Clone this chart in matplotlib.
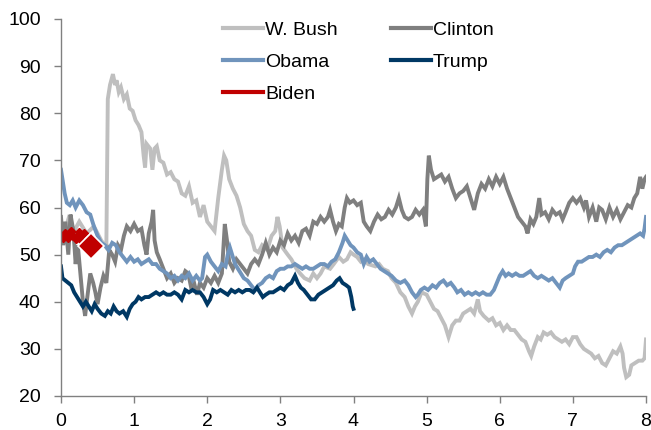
import matplotlib
matplotlib.use("Agg")
import matplotlib.pyplot as plt

plt.rcParams['font.family'] = ['Liberation Sans', 'DejaVu Sans']

# ---- data (years in office, approval %) ----
bush_x = [0.00, 0.05, 0.10, 0.18, 0.25, 0.35, 0.45, 0.55, 0.62, 0.64, 0.67, 0.71, 0.74, 0.76, 0.79, 0.82, 0.86, 0.90, 0.94, 0.98,
          1.02, 1.06, 1.10, 1.13, 1.15, 1.17, 1.22, 1.25, 1.28, 1.31, 1.35, 1.40, 1.45, 1.50, 1.55, 1.60, 1.65, 1.70, 1.75, 1.80,
          1.85, 1.90, 1.95, 2.00, 2.05, 2.10, 2.15, 2.20, 2.23, 2.26, 2.30, 2.35, 2.40, 2.45, 2.50, 2.55, 2.60, 2.65, 2.70, 2.75,
          2.82, 2.88, 2.93, 2.96, 2.99, 3.03, 3.10, 3.15, 3.22, 3.27, 3.33, 3.40, 3.45, 3.50, 3.55, 3.60, 3.68, 3.73, 3.80, 3.86,
          3.91, 3.96, 4.00, 4.05, 4.10, 4.15, 4.20, 4.30, 4.35, 4.40, 4.47, 4.52, 4.58, 4.64, 4.70, 4.75, 4.80, 4.84, 4.88, 4.93,
          5.00, 5.05, 5.10, 5.15, 5.20, 5.25, 5.30, 5.35, 5.40, 5.45, 5.50, 5.55, 5.60, 5.65, 5.70, 5.73, 5.78, 5.85, 5.90, 5.95,
          6.00, 6.05, 6.10, 6.15, 6.20, 6.25, 6.30, 6.35, 6.40, 6.43, 6.47, 6.52, 6.56, 6.60, 6.65, 6.70, 6.75, 6.80, 6.85, 6.90,
          6.95, 7.00, 7.05, 7.10, 7.15, 7.20, 7.25, 7.30, 7.35, 7.40, 7.45, 7.50, 7.55, 7.60, 7.65, 7.68, 7.70, 7.73, 7.77, 7.80,
          7.85, 7.90, 7.95, 7.98, 8.00]
bush_y = [57, 55, 57.5, 55, 57, 54.5, 56, 53, 51.5, 83, 86, 88.3, 86, 87, 84.5, 85.5, 83, 84, 81, 80.5,
          78.5, 77.5, 76, 71, 68.5, 73.5, 72.5, 68, 72.5, 73, 70, 69.5, 67, 67.5, 66, 65.5, 63, 62.5, 64.5, 61,
          61.5, 58, 60.5, 57, 56, 55, 62, 68, 71, 70, 66, 64, 62.5, 60, 56.5, 55, 54, 51, 50.5, 52,
          51, 54, 55, 58, 56, 51.5, 50, 49, 47, 46, 45, 44.5, 46, 45, 46, 47.5, 47, 48, 49.5, 48.5,
          49, 50.5, 50, 49.5, 48.5, 49, 48, 47.5, 48, 47, 46.5, 45, 44, 42, 41, 39, 37.5, 39, 40, 42,
          41.5, 40, 38.5, 38, 36.5, 35, 32.5, 35, 36, 36, 37.5, 38, 38.5, 37.5, 40.5, 38, 37, 36, 36.5, 35,
          35.5, 34, 35, 34, 34, 33, 32, 31.5, 29.5, 28.5, 30.5, 32.5, 32, 33.5, 33, 33.5, 32.5, 32, 31.5, 32,
          31, 32.5, 32.5, 31, 30, 29.5, 29, 28, 28.5, 27, 26.5, 28, 29.5, 29, 30.5, 29, 26, 24, 24.5, 26.5,
          27, 27.5, 27.5, 28, 32]

clinton_x = [0.00, 0.03, 0.06, 0.10, 0.13, 0.17, 0.20, 0.23, 0.27, 0.30, 0.33, 0.36, 0.40, 0.44, 0.47, 0.50, 0.54, 0.58, 0.62, 0.66,
             0.70, 0.74, 0.78, 0.82, 0.86, 0.90, 0.95, 1.00, 1.05, 1.10, 1.14, 1.17, 1.20, 1.24, 1.26, 1.28, 1.31, 1.35, 1.40, 1.45,
             1.50, 1.55, 1.60, 1.65, 1.70, 1.74, 1.78, 1.82, 1.86, 1.90, 1.95, 2.00, 2.05, 2.10, 2.15, 2.20, 2.24, 2.27, 2.30, 2.35,
             2.40, 2.45, 2.50, 2.55, 2.60, 2.65, 2.70, 2.75, 2.80, 2.85, 2.90, 2.95, 3.00, 3.05, 3.10, 3.15, 3.20, 3.25, 3.30, 3.35,
             3.40, 3.45, 3.50, 3.55, 3.60, 3.65, 3.68, 3.72, 3.76, 3.80, 3.84, 3.88, 3.91, 3.95, 4.00, 4.05, 4.10, 4.14, 4.18, 4.23,
             4.28, 4.33, 4.38, 4.43, 4.48, 4.53, 4.58, 4.62, 4.66, 4.70, 4.75, 4.80, 4.85, 4.90, 4.95, 4.99, 5.01, 5.03, 5.06, 5.10,
             5.15, 5.20, 5.25, 5.30, 5.35, 5.40, 5.45, 5.50, 5.55, 5.60, 5.65, 5.70, 5.75, 5.80, 5.85, 5.90, 5.95, 6.00, 6.05, 6.10,
             6.15, 6.20, 6.25, 6.30, 6.35, 6.38, 6.42, 6.46, 6.50, 6.54, 6.57, 6.62, 6.67, 6.72, 6.77, 6.82, 6.86, 6.90, 6.95, 7.00,
             7.05, 7.10, 7.15, 7.18, 7.22, 7.27, 7.32, 7.36, 7.40, 7.45, 7.50, 7.55, 7.60, 7.65, 7.70, 7.75, 7.80, 7.84, 7.88, 7.92,
             7.95, 7.98, 8.00]
clinton_y = [58, 52, 57, 50, 58.5, 55, 48, 52, 45, 40, 37, 41, 46, 44, 42, 39.5, 43, 45.5, 44, 51,
             50, 48.5, 52, 51, 54, 56, 55, 56.5, 55, 55.5, 52, 50, 54.5, 57, 59.5, 53, 50.5, 49, 47, 45,
             46, 44, 45, 44.5, 46.5, 46, 43, 44, 41.5, 44, 43, 45, 44, 45.5, 44, 46, 56.5, 53, 48.5, 47,
             49, 48, 47, 46, 48, 49, 48, 50, 52.5, 50, 51.5, 50.5, 53, 52, 54.5, 53, 54, 52.5, 55, 55.5,
             54, 57, 56.5, 58, 57, 58, 59.5, 57, 55, 56.5, 56, 60, 62, 61, 61.5, 60.5, 61, 57, 56, 55,
             57, 58.5, 57.5, 58, 59.5, 58.5, 60, 62, 59.5, 58, 57.5, 58, 59.5, 58.5, 59.5, 56, 66, 71, 68, 66,
             66.5, 67, 65.5, 66.5, 64, 62, 63, 63.5, 64.5, 62, 59.5, 63, 65, 64, 66, 64.5, 66.5, 65, 66.5, 64,
             62, 60, 58, 57, 56, 54.5, 57.5, 56.5, 58, 62, 58.5, 59, 57.5, 59.5, 58.5, 59, 57.5, 59, 61, 62,
             61, 62, 60, 61.5, 58, 60, 57, 60, 59.5, 57.5, 60, 58, 59.5, 57.5, 59, 60.5, 60, 62, 63, 66.5,
             64, 66, 66.5]

obama_x = [0.00, 0.02, 0.05, 0.08, 0.12, 0.16, 0.20, 0.25, 0.30, 0.35, 0.40, 0.45, 0.50, 0.55, 0.60, 0.65, 0.70, 0.75, 0.80, 0.85,
           0.90, 0.95, 1.00, 1.05, 1.10, 1.15, 1.20, 1.25, 1.30, 1.35, 1.40, 1.45, 1.50, 1.55, 1.60, 1.65, 1.70, 1.75, 1.80, 1.85,
           1.90, 1.93, 1.97, 2.00, 2.05, 2.10, 2.15, 2.20, 2.25, 2.28, 2.31, 2.34, 2.38, 2.42, 2.46, 2.50, 2.55, 2.60, 2.65, 2.70,
           2.75, 2.80, 2.85, 2.90, 2.95, 3.00, 3.05, 3.10, 3.15, 3.20, 3.25, 3.30, 3.35, 3.40, 3.45, 3.50, 3.55, 3.60, 3.65, 3.70,
           3.75, 3.80, 3.85, 3.88, 3.92, 3.96, 4.00, 4.05, 4.10, 4.14, 4.18, 4.22, 4.27, 4.32, 4.37, 4.42, 4.47, 4.52, 4.58, 4.64,
           4.70, 4.75, 4.80, 4.85, 4.88, 4.92, 4.97, 5.02, 5.08, 5.13, 5.18, 5.23, 5.28, 5.33, 5.38, 5.42, 5.47, 5.52, 5.57, 5.62,
           5.67, 5.72, 5.77, 5.82, 5.87, 5.92, 5.96, 6.00, 6.04, 6.08, 6.12, 6.17, 6.22, 6.27, 6.32, 6.37, 6.42, 6.47, 6.52, 6.57,
           6.62, 6.67, 6.72, 6.77, 6.82, 6.86, 6.90, 6.95, 7.00, 7.03, 7.07, 7.12, 7.17, 7.22, 7.27, 7.32, 7.37, 7.42, 7.47, 7.52,
           7.57, 7.62, 7.67, 7.72, 7.77, 7.82, 7.87, 7.92, 7.96, 7.98, 8.00]
obama_y = [68, 66, 63, 61, 60.5, 61.5, 60, 61.5, 60.5, 59, 58.5, 56, 54, 52.5, 52, 51, 52.5, 52, 50.5, 49.5,
           48.5, 49.5, 48.5, 49, 48, 48.5, 49, 48, 48, 47, 46.5, 46, 45, 45.5, 44.5, 45.5, 45, 46, 44.5, 45.5,
           44.5, 45, 49.5, 50, 48.5, 47.5, 46.5, 48, 47.5, 50, 51.5, 50, 48, 47, 46, 45, 44.5, 43.5, 42.5, 43.5,
           44, 45, 45.5, 45, 46.5, 47, 47, 47.5, 47.5, 48, 47.5, 47, 47.5, 47, 47, 47.5, 48, 48, 47.5, 48.5,
           49, 50.5, 52.5, 54, 53, 52, 51.5, 50.5, 50, 48, 49.5, 48.5, 49, 48, 47, 46.5, 46, 45.5, 44.5, 44,
           44.5, 43.5, 42, 41, 41.5, 42.5, 43, 42.5, 43.5, 43, 44, 44.5, 43.5, 44, 43, 42, 42.5, 41.5, 42, 41.5,
           42, 41.5, 42, 41.5, 41.5, 42.5, 44, 45.5, 46.5, 45.5, 46, 45.5, 46, 45.5, 45.5, 46, 46.5, 45.5, 45, 45.5,
           45, 44.5, 45, 44, 43, 44.5, 45, 45.5, 46, 47.5, 48.5, 48.5, 49, 49.5, 49.5, 50, 49.5, 50.5, 51, 50.5,
           51.5, 52, 52, 52.5, 53, 53.5, 54, 54.5, 54, 55.5, 58]

trump_x = [0.00, 0.02, 0.06, 0.10, 0.14, 0.18, 0.22, 0.26, 0.30, 0.34, 0.38, 0.42, 0.46, 0.50, 0.55, 0.60, 0.64, 0.68, 0.72, 0.76,
           0.80, 0.85, 0.90, 0.94, 0.98, 1.02, 1.06, 1.10, 1.15, 1.20, 1.25, 1.30, 1.35, 1.40, 1.45, 1.50, 1.55, 1.60, 1.65, 1.70,
           1.75, 1.80, 1.85, 1.90, 1.95, 2.00, 2.04, 2.08, 2.13, 2.18, 2.23, 2.28, 2.33, 2.38, 2.43, 2.48, 2.53, 2.58, 2.63, 2.68,
           2.72, 2.76, 2.80, 2.85, 2.90, 2.95, 3.00, 3.05, 3.10, 3.15, 3.20, 3.24, 3.28, 3.32, 3.37, 3.42, 3.47, 3.52, 3.57, 3.62,
           3.67, 3.72, 3.77, 3.81, 3.85, 3.90, 3.94, 3.97, 3.99, 4.00]
trump_y = [47.5, 45, 44.5, 44, 43.5, 42, 41, 40, 39, 40, 39, 38, 39.5, 38.5, 37.5, 37, 38, 37.5, 39, 38,
           37.5, 38, 36.8, 38.5, 39.5, 40, 41, 40.5, 41, 41, 41.5, 42, 41.5, 42, 41.5, 41.5, 42, 41.5, 40.5, 42.5,
           42, 42.5, 42, 42, 41, 39.5, 40.5, 42.5, 42, 42.5, 42, 41.5, 42.5, 42, 42.5, 42, 42.5, 42.5, 42, 43,
           42, 41, 41.5, 42, 42, 42.5, 43, 42.5, 43.5, 44, 45.5, 44, 43, 42.5, 41.5, 40.5, 40.5, 41.5, 42, 42.5,
           43, 43.5, 44.5, 45, 44, 43.5, 43, 41, 39, 38.5]

biden_x = [0.00, 0.03, 0.06, 0.10, 0.13, 0.17, 0.20, 0.24, 0.28, 0.32, 0.41]
biden_y = [54, 53.5, 54.5, 53.5, 55, 54, 53.3, 54.8, 53.2, 54.5, 51.8]

x_ticks = [0, 1, 2, 3, 4, 5, 6, 7, 8]
y_ticks = [20, 30, 40, 50, 60, 70, 80, 90, 100]

# ---- figure ----
fig = plt.figure(figsize=(6.51, 4.30), dpi=100)
ax = fig.add_axes([61/651, 1-396/430, (646-61)/651, (396-19)/430])

lw = 2.8
ax.plot(bush_x, bush_y, color='#BFBFBF', lw=lw, solid_joinstyle='miter')
ax.plot(clinton_x, clinton_y, color='#7F7F7F', lw=lw, solid_joinstyle='miter')
ax.plot(obama_x, obama_y, color='#7094BC', lw=lw, solid_joinstyle='miter')
ax.plot(trump_x, trump_y, color='#003864', lw=lw, solid_joinstyle='miter')
ax.plot(biden_x[:-1], biden_y[:-1], color='#C00000', lw=lw, marker='D', ms=4, mec='#C00000')
ax.plot(biden_x[-1:], biden_y[-1:], linestyle='none', marker='D', ms=13, color='#C00000', mec='white', mew=1.2)

ax.set_xlim(0, 8)
ax.set_ylim(20, 100)
ax.set_xticks(x_ticks)
ax.set_yticks(y_ticks)
ax.tick_params(axis='both', labelsize=14, colors='#808080', labelcolor='black', length=5, width=1, direction='out')
ax.tick_params(axis='x', pad=7)
ax.tick_params(axis='y', pad=9.5)
for s in ['top', 'right']:
    ax.spines[s].set_visible(False)
for s in ['left', 'bottom']:
    ax.spines[s].set_color('#808080')
    ax.spines[s].set_linewidth(1)

leg_bush = plt.Line2D([], [], color='#BFBFBF', lw=3)
leg_clin = plt.Line2D([], [], color='#7F7F7F', lw=3)
leg_obama = plt.Line2D([], [], color='#7094BC', lw=3)
leg_trump = plt.Line2D([], [], color='#003864', lw=3)
leg_biden = plt.Line2D([], [], color='#C00000', lw=3)
fig.legend([leg_bush, leg_obama, leg_biden, leg_clin, leg_trump],
           ['W. Bush', 'Obama', 'Biden', 'Clinton', 'Trump'],
           ncol=2, frameon=False, fontsize=14, loc='upper left',
           bbox_to_anchor=(223/651, 1-21.5/430), borderpad=0, borderaxespad=0,
           handlelength=2.06, handletextpad=0.1, columnspacing=2.75, labelspacing=0.74)

fig.savefig('out.png', dpi=100)
